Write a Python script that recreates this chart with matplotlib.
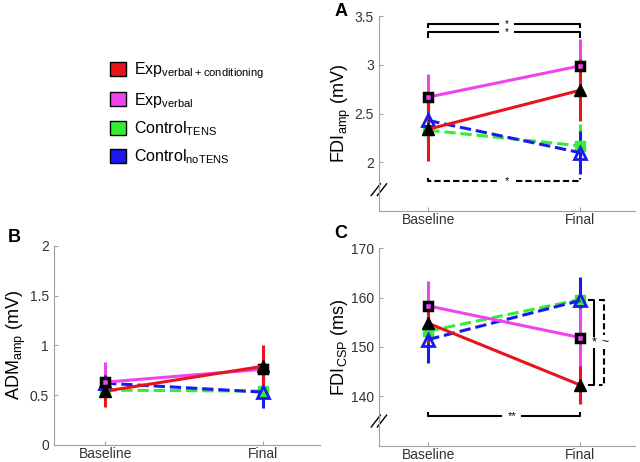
import matplotlib
matplotlib.use('Agg')
import matplotlib.pyplot as plt
from matplotlib.patches import Patch

plt.rcParams['font.family'] = ['Liberation Sans', 'DejaVu Sans']
plt.rcParams['mathtext.fontset'] = 'custom'
plt.rcParams['mathtext.rm'] = 'Liberation Sans'

# session labels
sessions = ['Baseline', 'Final']
x = [1, 2]

# groups and colours
groups = ['Exp$_{\\mathrm{verbal+conditioning}}$', 'Exp$_{\\mathrm{verbal}}$',
          'Control$_{\\mathrm{TENS}}$', 'Control$_{\\mathrm{noTENS}}$']
colors = ['#e8141b', '#ee44ee', '#33ee33', '#1a1aee']

# panel A: FDI amp (mV), mean and error
fdi_amp = {'red': [2.34, 2.74], 'mag': [2.67, 2.99], 'grn': [2.33, 2.17], 'blu': [2.43, 2.10]}
fdi_amp_err = {'red': [0.33, 0.32], 'mag': [0.24, 0.28], 'grn': [0.20, 0.22], 'blu': [0.20, 0.22]}

# panel B: ADM amp (mV)
adm_amp = {'red': [0.54, 0.79], 'mag': [0.63, 0.76], 'grn': [0.55, 0.54], 'blu': [0.62, 0.53]}
adm_amp_err = {'red': [0.16, 0.21], 'mag': [0.20, 0.15], 'grn': [0.10, 0.10], 'blu': [0.12, 0.16]}

# panel C: FDI CSP (ms)
fdi_csp = {'red': [154.8, 142.3], 'mag': [158.3, 151.9], 'grn': [153.2, 159.6], 'blu': [151.5, 159.4]}
fdi_csp_err = {'red': [4.0, 3.8], 'mag': [5.0, 6.0], 'grn': [3.5, 3.5], 'blu': [4.8, 4.7]}

styles = {
    'grn': dict(color=colors[2], ls='--', marker='s', mfc=colors[2], mec=colors[2], mew=1, ms=7),
    'blu': dict(color=colors[3], ls='--', marker='^', mfc='none', mec=colors[3], mew=2, ms=8),
    'mag': dict(color=colors[1], ls='-', marker='s', mfc=colors[1], mec='black', mew=2.5, ms=6),
    'red': dict(color=colors[0], ls='-', marker='^', mfc='black', mec='black', mew=1, ms=8),
}
order = ['grn', 'blu', 'mag', 'red']

fig = plt.figure(figsize=(6.4, 4.62), dpi=100)
axA = fig.add_axes([0.592, 0.543, 0.4, 0.422])
axB = fig.add_axes([0.084, 0.037, 0.416, 0.431])
axC = fig.add_axes([0.592, 0.035, 0.4, 0.428])


def draw(ax, vals, errs):
    for k in order:
        st = styles[k]
        ax.errorbar(x, vals[k], yerr=errs[k], color=st['color'], ls=st['ls'], lw=2.2,
                    elinewidth=2.2, capsize=0, marker=st['marker'], ms=st['ms'],
                    mfc=st['mfc'], mec=st['mec'], mew=st['mew'])
    for side in ['top', 'right']:
        ax.spines[side].set_visible(False)
    for side in ['left', 'bottom']:
        ax.spines[side].set_color('#a0a0a0')
    ax.tick_params(direction='in', length=3, color='#a0a0a0', labelcolor='#333333', labelsize=10)
    ax.tick_params(axis='x', pad=1.5)
    ax.set_xticks(x)
    ax.set_xticklabels(sessions)
    ax.set_xlim(0.675, 2.36)


def axis_break(ax, yfrac):
    for dx in [-0.012, 0.012]:
        ax.plot([dx - 0.018, dx + 0.018], [yfrac - 0.03, yfrac + 0.03], color='black',
                lw=1, transform=ax.transAxes, clip_on=False)


def hbracket(ax, y, tick, gap, ls='-', label='*', size=8):
    kw = dict(color='black', lw=1.5, ls=ls)
    if ls == '--':
        kw['dashes'] = (3, 1.5)
    ax.plot([1, 1, gap[0]], [y + tick, y, y], **kw)
    ax.plot([gap[1], 2, 2], [y, y, y + tick], **kw)
    ax.text((gap[0] + gap[1]) / 2, y, label, ha='center', va='center', fontsize=size)


def vbracket(ax, xb, y0, y1, gap, ls='-', label='*'):
    kw = dict(color='black', lw=1.5, ls=ls, clip_on=False)
    if ls == '--':
        kw['dashes'] = (3, 1.5)
    ax.plot([xb - 0.035, xb, xb], [y0, y0, gap[0]], **kw)
    ax.plot([xb, xb, xb - 0.035], [gap[1], y1, y1], **kw)
    ax.text(xb + 0.005, (gap[0] + gap[1]) / 2, label, ha='center', va='center',
            fontsize=9, clip_on=False)


# panel A
draw(axA, fdi_amp, fdi_amp_err)
axA.set_ylim(1.5, 3.5)
axA.set_yticks([2, 2.5, 3, 3.5])
axA.set_yticklabels(['2', '2.5', '3', '3.5'])
axA.set_ylabel('FDI$_{\\mathrm{amp}}$ (mV)', fontsize=13, labelpad=1)
axis_break(axA, 0.11)
hbracket(axA, 3.42, -0.03, (1.46, 1.57), size=7)
hbracket(axA, 3.34, -0.05, (1.46, 1.57), size=7)
hbracket(axA, 1.81, 0.03, (1.45, 1.58), ls='--')

# panel B
draw(axB, adm_amp, adm_amp_err)
axB.set_ylim(0, 2)
axB.set_yticks([0, 0.5, 1, 1.5, 2])
axB.set_yticklabels(['0', '0.5', '1', '1.5', '2'])
axB.set_ylabel('ADM$_{\\mathrm{amp}}$ (mV)', fontsize=13, labelpad=1)

# panel C
draw(axC, fdi_csp, fdi_csp_err)
axC.set_ylim(130, 170)
axC.set_yticks([140, 150, 160, 170])
axC.set_ylabel('FDI$_{\\mathrm{CSP}}$ (ms)', fontsize=13, labelpad=1)
axis_break(axC, 0.125)
hbracket(axC, 136.0, 0.7, (1.48, 1.62), label='**')
vbracket(axC, 2.09, 159.4, 142.3, (152.2, 149.6))
vbracket(axC, 2.16, 159.4, 142.3, (152.4, 149.6), ls='--', label='~')

# panel letters
fig.text(0.523, 0.975, 'A', fontsize=13, fontweight='bold', va='center')
fig.text(0.012, 0.487, 'B', fontsize=13, fontweight='bold', va='center')
fig.text(0.523, 0.494, 'C', fontsize=13, fontweight='bold', va='center')

# legend
handles = [Patch(facecolor=c, edgecolor='black', lw=1) for c in colors]
fig.legend(handles, groups, loc='upper left', bbox_to_anchor=(0.15, 0.9),
           frameon=False, fontsize=11.5, handlelength=1.0, handleheight=1.0,
           labelspacing=0.6, handletextpad=0.5)

fig.savefig('out.png', dpi=100)
